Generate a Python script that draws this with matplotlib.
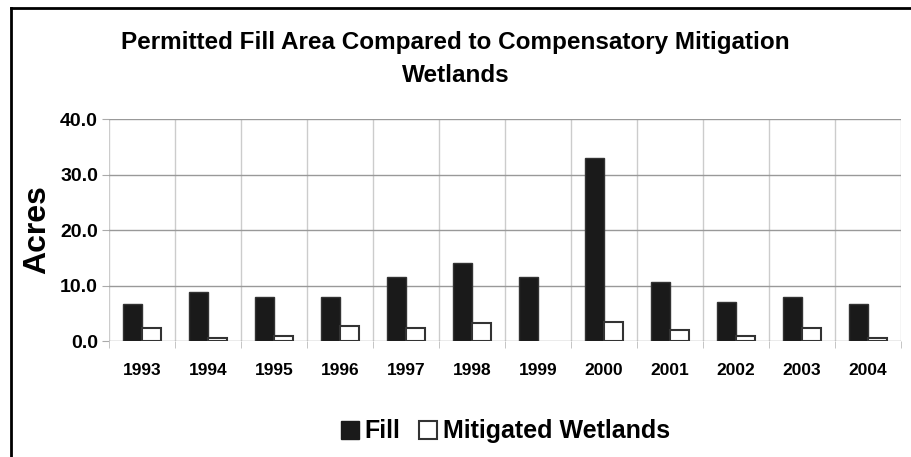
import matplotlib.pyplot as plt
from matplotlib.lines import Line2D
import numpy as np

years = ["1993", "1994", "1995", "1996", "1997", "1998",
         "1999", "2000", "2001", "2002", "2003", "2004"]
fill = [6.7, 8.8, 8.0, 8.0, 11.5, 14.1, 11.5, 32.9, 10.6, 7.0, 8.0, 6.6]
mitigated = [2.35, 0.5, 0.95, 2.7, 2.35, 3.2, 0.0, 3.5, 1.95, 0.9, 2.3, 0.5]

narrow = ["Liberation Sans Narrow", "Liberation Sans", "DejaVu Sans"]
wide = ["Liberation Sans", "DejaVu Sans"]

fig = plt.figure(figsize=(9.11, 4.57), dpi=100)
ax = fig.add_axes([0.1197, 0.2538, 0.8693, 0.4858])

x = np.arange(len(years))
w = 0.29
ax.bar(x - w / 2, fill, w, color="#1a1a1a", edgecolor="#333333", linewidth=1, zorder=3)
# no outline for an empty value (1999)
lw_mit = [1.5 if v > 0 else 0 for v in mitigated]
ax.bar(x + w / 2, mitigated, w, color="white", edgecolor="#333333", linewidth=lw_mit, zorder=3)

ax.set_xlim(-0.5, len(years) - 0.5)
ax.set_ylim(0, 40)
ax.set_yticks([0, 10, 20, 30, 40])
ax.set_yticklabels(["%.1f" % v for v in [0, 10, 20, 30, 40]],
                   fontfamily=narrow, fontweight="bold", fontsize=14)
ax.set_xticks(x)
ax.set_xticklabels(years, fontfamily=wide, fontweight="bold", fontsize=12.5)
ax.set_xticks(np.arange(-0.5, len(years), 1), minor=True)

ax.tick_params(axis="x", which="major", length=0, pad=16)
ax.tick_params(axis="x", which="minor", length=5, color="#bbbbbb", direction="out")
ax.tick_params(axis="y", length=5, color="#aaaaaa", pad=3)

ax.grid(axis="y", which="major", color="#999999", linewidth=1, zorder=0)
ax.grid(axis="x", which="minor", color="#cccccc", linewidth=1, zorder=0)
for s in ax.spines.values():
    s.set_visible(False)

ax.set_ylabel("Acres", fontfamily=wide, fontweight="bold", fontsize=23, labelpad=6)

fig.text(0.5, 0.907, "Permitted Fill Area Compared to Compensatory Mitigation",
         ha="center", va="center", fontfamily=narrow, fontweight="bold", fontsize=17.5)
fig.text(0.5, 0.834, "Wetlands", ha="center", va="center",
         fontfamily=narrow, fontweight="bold", fontsize=17.5)

handles = [
    Line2D([], [], marker="s", linestyle="none", markersize=13,
           markerfacecolor="#1a1a1a", markeredgecolor="#1a1a1a"),
    Line2D([], [], marker="s", linestyle="none", markersize=13,
           markerfacecolor="white", markeredgecolor="#333333", markeredgewidth=1.5),
]
fig.legend(handles, ["Fill", "Mitigated Wetlands"], loc="center", ncol=2,
           bbox_to_anchor=(0.553, 0.056), frameon=False, handletextpad=0.1,
           columnspacing=0.6, handlelength=1.0,
           prop={"family": wide, "weight": "bold", "size": 18})

# frame of the original picture (left and top edges)
fig.add_artist(Line2D([0.012, 0.012], [0, 0.982], color="black", linewidth=2,
                      transform=fig.transFigure))
fig.add_artist(Line2D([0.012, 1.0], [0.982, 0.982], color="black", linewidth=2,
                      transform=fig.transFigure))

fig.savefig("out.png", dpi=100)
